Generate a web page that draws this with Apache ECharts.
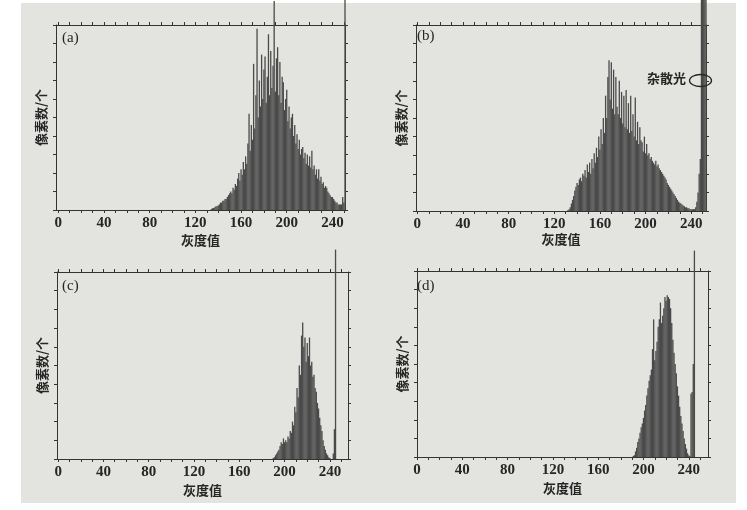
<!DOCTYPE html>
<html>
<head>
<meta charset="utf-8">
<title>灰度直方图</title>
<script src="https://cdn.jsdelivr.net/npm/echarts@6/dist/echarts.min.js"></script>
<style>
  html, body { margin: 0; padding: 0; background: #fff; }
  #chart { width: 747px; height: 510px; }
</style>
</head>
<body>
<div id="chart"></div>
<script>
// 坐标刻度
const xLabelValues = [0, 40, 80, 120, 160, 200, 240];
const xTickValues = [0, 10, 20, 30, 40, 50, 60, 70, 80, 90, 100, 110, 120, 130,
  140, 150, 160, 170, 180, 190, 200, 210, 220, 230, 240, 250];

// (a) 像素数（相对高度，100 = 图框顶部），灰度值从 startA 开始
const startA = 134;
const countsA = [
  0.5, 1, 1, 1.5, 2, 2, 2.5, 3, 4, 4,
  5, 5, 6, 6, 7, 8, 9, 10, 9, 12,
  11, 14, 13, 17, 20, 16, 22, 19, 26, 22,
  29, 25, 36, 52, 32, 46, 38, 79, 44, 62,
  98, 50, 70, 56, 84, 60, 76, 83, 58, 72,
  95, 62, 86, 66, 78, 113, 64, 82, 88, 62,
  80, 58, 72, 69, 54, 60, 65, 48, 56, 44,
  50, 52, 40, 46, 36, 41, 33, 38, 30, 33,
  34, 28, 31, 25, 30, 24, 29, 23, 32, 22,
  24, 19, 22, 17, 22, 16, 18, 14, 15, 12,
  13, 12, 10, 9, 8, 7, 7, 6, 5, 4,
  4, 3, 3, 3, 3, 7, 4, 115
];

// (b)
const startB = 132;
const countsB = [
  0.5, 1, 2, 4, 6, 8, 11, 13, 15, 14,
  17, 18, 16, 20, 19, 22, 18, 25, 21, 26,
  20, 28, 23, 31, 26, 34, 29, 40, 33, 44,
  36, 50, 42, 62, 50, 72, 81, 60, 80, 55,
  76, 52, 72, 56, 52, 70, 50, 64, 47, 62,
  45, 65, 44, 58, 42, 62, 43, 52, 40, 61,
  38, 48, 36, 45, 38, 37, 32, 40, 31, 36,
  30, 31, 28, 29, 27, 26, 25, 27, 24, 25,
  23, 22, 21, 20, 19, 18, 17, 15, 14, 13,
  12, 11, 10, 9, 8, 7, 6, 5, 4.5, 4,
  3.5, 3, 2.5, 2, 2, 1.5, 1.5, 1, 1, 1,
  1, 1, 2, 5, 10, 20, 28, 120, 120, 120,
  120, 120
];

// (c)
const startC = 190;
const countsC = [
  0.5, 1, 2, 3, 4, 5, 7, 9, 8, 11,
  9, 10, 9, 12, 11, 15, 14, 20, 18, 28,
  25, 38, 33, 50, 45, 66, 73, 60, 65, 52,
  62, 55, 65, 50, 52, 44, 45, 38, 36, 30,
  27, 22, 18, 15, 10, 7, 5, 3, 2, 1,
  0.5, 0, 0, 3, 16, 112
];

// (d)
const startD = 191;
const countsD = [
  0.5, 1, 3, 5, 8, 10, 13, 16, 18, 21,
  25, 28, 33, 37, 41, 44, 47, 58, 74, 52,
  57, 62, 70, 74, 83, 72, 76, 80, 86, 84,
  87, 86, 85, 80, 72, 63, 56, 50, 45, 38,
  33, 27, 22, 18, 14, 10, 7, 4.5, 2, 1,
  0.5, 34, 35, 50, 111
];

const panels = [
  { tag: '(a)', start: startA, counts: countsA, left: 56, top: 25, width: 289, height: 185, xMin: -2, xMax: 251, nameGap: 24, tagX: 62, tagY: 40 },
  { tag: '(b)', start: startB, counts: countsB, left: 416, top: 25, width: 290, height: 186, xMin: -1.2, xMax: 253, nameGap: 22, tagX: 417, tagY: 38 },
  { tag: '(c)', start: startC, counts: countsC, left: 57, top: 272, width: 291, height: 187, xMin: -1, xMax: 256, nameGap: 25, tagX: 62, tagY: 288 },
  { tag: '(d)', start: startD, counts: countsD, left: 417, top: 271, width: 291, height: 186, xMin: 0, xMax: 257, nameGap: 25, tagX: 417, tagY: 288 }
];

const ink = '#262626';
const numFont = { fontFamily: '"Liberation Serif", serif', fontSize: 15, fontWeight: 'bold', color: ink };
const cjkFont = { fontFamily: '"Noto Sans CJK SC", sans-serif', fontSize: 13, fontWeight: 'bold', color: ink };
const lineStyle = { color: '#333', width: 1 };

const grids = [];
const xAxes = [];
const yAxes = [];
const series = [];
const graphics = [
  // 扫描纸张底色
  { type: 'rect', z: -10, silent: true, shape: { x: 21, y: 3, width: 715, height: 500 }, style: { fill: '#e3e3df' } }
];

panels.forEach((p, i) => {
  grids.push({ left: p.left, top: p.top, width: p.width, height: p.height, outerBoundsMode: 'none' });

  const xBase = {
    type: 'value', gridIndex: i, min: p.xMin, max: p.xMax,
    axisLine: { show: true, onZero: false, lineStyle },
    axisTick: { show: true, inside: false, length: 3, customValues: xTickValues, lineStyle },
    splitLine: { show: false }
  };
  xAxes.push(Object.assign({}, xBase, {
    position: 'bottom',
    name: '灰度值', nameLocation: 'middle', nameGap: p.nameGap, nameTextStyle: cjkFont,
    axisLabel: Object.assign({ show: true, customValues: xLabelValues, margin: 6 }, numFont)
  }));
  xAxes.push(Object.assign({}, xBase, { position: 'top', axisLabel: { show: false } }));

  const yBase = {
    type: 'value', gridIndex: i, min: 0, max: 100, interval: 10,
    axisLine: { show: true, onZero: false, lineStyle },
    axisTick: { show: true, inside: false, length: 3, lineStyle },
    axisLabel: { show: false },
    splitLine: { show: false }
  };
  yAxes.push(Object.assign({}, yBase, {
    position: 'left',
    name: '像素数/个', nameLocation: 'middle', nameGap: 8, nameTextStyle: cjkFont
  }));
  yAxes.push(Object.assign({}, yBase, { position: 'right' }));

  series.push({
    type: 'bar',
    xAxisIndex: 2 * i,
    yAxisIndex: 2 * i,
    barWidth: 1.3,
    clip: false,
    silent: true,
    itemStyle: { color: '#4a4a4a' },
    data: p.counts.map((v, k) => [p.start + k, v])
  });

  graphics.push({
    type: 'text', left: p.tagX, top: p.tagY - 9,
    style: { text: p.tag, font: '15px "Liberation Serif", serif', fill: ink }
  });
});

// 杂散光标注
graphics.push({
  type: 'text', left: 647, top: 72,
  style: { text: '杂散光', font: 'bold 13px "Noto Sans CJK SC", sans-serif', fill: ink }
});
graphics.push({
  type: 'ellipse', z: 10,
  shape: { cx: 700.5, cy: 80.5, rx: 11, ry: 6 },
  style: { fill: 'none', stroke: ink, lineWidth: 1.3 }
});

const chart = echarts.init(document.getElementById('chart'));
chart.setOption({
  animation: false,
  backgroundColor: '#ffffff',
  grid: grids,
  xAxis: xAxes,
  yAxis: yAxes,
  series: series,
  graphic: graphics
});
window.addEventListener('resize', () => chart.resize());
</script>
</body>
</html>
